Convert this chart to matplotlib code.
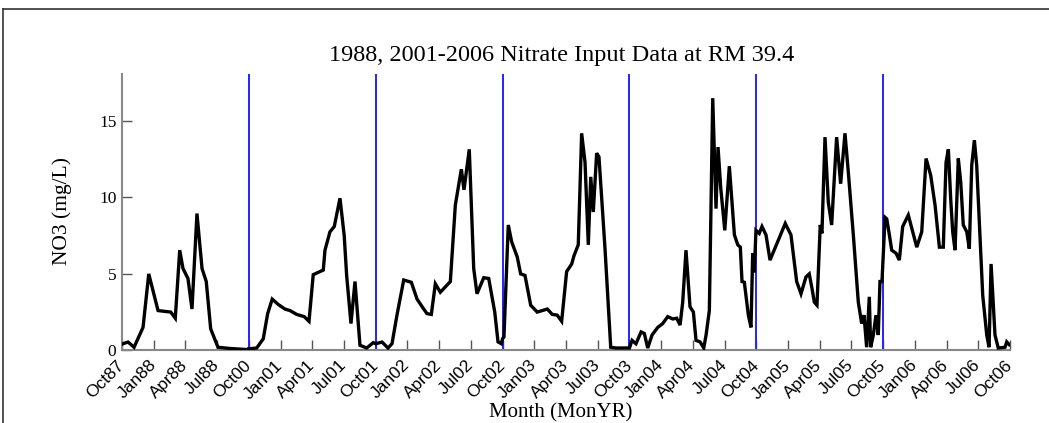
import matplotlib
matplotlib.use("Agg")
import matplotlib.pyplot as plt
import numpy as np
from matplotlib.lines import Line2D

# Water-year segments (each 12 months, Oct->Sep) placed end to end on the x axis
segments = ["WY1988", "WY2001", "WY2002", "WY2003", "WY2004", "WY2005", "WY2006"]

# months into each water year (0 = start of Oct) and nitrate (mg/L)
m1988 = [0.0, 0.09, 0.57, 1.14, 1.99, 2.53, 3.41, 4.61, 5.04, 5.46, 5.77, 6.24, 6.62, 7.09, 7.57, 7.97, 8.39, 9.08, 10.2, 11.8, 12.0]
v1988 = [0.4, 0.43, 0.54, 0.2, 1.5, 5.0, 2.6, 2.5, 2.1, 6.55, 5.35, 4.7, 2.7, 8.95, 5.35, 4.5, 1.4, 0.2, 0.12, 0.05, 0.05]

m2001 = [0.0, 0.74, 1.36, 1.78, 2.21, 2.78, 3.41, 3.89, 4.52, 5.24, 5.69, 6.09, 6.57, 7.04, 7.2, 7.67, 8.08, 8.62, 9.02, 9.25, 9.66, 10.04, 10.51, 11.14, 11.77]
v2001 = [0.1, 0.15, 0.75, 2.4, 3.35, 3.0, 2.7, 2.6, 2.35, 2.2, 1.9, 4.95, 5.1, 5.25, 6.55, 7.75, 8.1, 9.95, 7.5, 4.9, 1.75, 4.5, 0.33, 0.15, 0.5]

m2002 = [0.0, 0.6, 1.16, 1.54, 2.01, 2.65, 3.37, 3.91, 4.54, 4.85, 5.26, 5.64, 6.11, 6.58, 7.06, 7.53, 8.1, 8.35, 8.85, 9.27, 9.58, 10.22, 10.69, 11.26, 11.57, 11.88]
v2002 = [0.43, 0.54, 0.15, 0.43, 2.3, 4.6, 4.45, 3.35, 2.7, 2.4, 2.35, 4.35, 3.8, 4.15, 4.5, 9.5, 11.85, 10.5, 13.15, 5.35, 3.7, 4.75, 4.7, 2.5, 0.55, 0.43]

m2003 = [0.0, 0.13, 0.54, 0.86, 1.39, 1.71, 2.12, 2.66, 3.28, 4.23, 4.7, 5.17, 5.59, 6.06, 6.54, 6.76, 7.16, 7.48, 7.8, 8.11, 8.34, 8.58, 8.9, 9.12, 9.69, 10.23, 10.7, 11.9]
v2003 = [0.76, 0.87, 8.2, 7.1, 6.1, 5.0, 4.9, 2.95, 2.5, 2.7, 2.35, 2.3, 1.9, 5.15, 5.65, 6.2, 6.9, 14.2, 12.3, 6.9, 11.35, 9.05, 12.9, 12.65, 6.65, 0.2, 0.15, 0.15]

m2004 = [0.0, 0.25, 0.62, 1.1, 1.41, 1.73, 2.14, 2.68, 3.15, 3.62, 4.1, 4.47, 4.79, 5.04, 5.35, 5.73, 6.05, 6.3, 6.68, 7.03, 7.25, 7.56, 7.88, 8.19, 8.38, 8.64, 9.02, 9.45, 9.93, 10.25, 10.49, 10.65, 10.87, 11.25, 11.5, 11.66, 11.81, 11.97]
v2004 = [0.15, 0.65, 0.43, 1.2, 1.1, 0.15, 1.0, 1.5, 1.75, 2.2, 2.05, 2.1, 1.65, 3.15, 6.55, 2.85, 2.5, 0.65, 0.55, 0.15, 1.0, 2.6, 16.5, 9.27, 13.3, 10.6, 7.85, 12.05, 7.55, 6.9, 6.75, 4.5, 4.45, 2.3, 1.5, 6.35, 5.1, 7.85]

m2005 = [0.28, 0.54, 0.92, 1.3, 2.02, 2.74, 3.28, 3.82, 4.23, 4.7, 5.01, 5.27, 5.49, 5.74, 6.05, 6.21, 6.5, 6.81, 7.13, 7.6, 7.98, 8.39, 8.7, 9.18, 9.65, 9.97, 10.19, 10.44, 10.69, 10.82, 11.07, 11.32, 11.54, 11.7, 11.89]
v2005 = [7.65, 8.1, 7.55, 5.9, 7.1, 8.3, 7.55, 4.5, 3.7, 4.8, 5.0, 4.05, 3.15, 2.95, 8.2, 7.65, 13.95, 9.7, 8.2, 13.95, 10.9, 14.2, 11.7, 7.55, 3.15, 1.75, 2.3, 0.2, 3.5, 0.2, 1.0, 2.3, 1.0, 4.5, 4.5]

m2006 = [0.02, 0.18, 0.34, 0.59, 0.81, 1.22, 1.53, 1.85, 2.38, 2.8, 3.18, 3.65, 4.06, 4.5, 4.91, 5.32, 5.69, 5.95, 6.17, 6.39, 6.58, 6.8, 6.96, 7.11, 7.34, 7.58, 7.91, 8.15, 8.38, 8.63, 8.85, 9.42, 9.8, 10.02, 10.21, 10.58, 10.89, 11.53, 11.69, 11.93]
v2006 = [6.45, 8.7, 8.6, 7.55, 6.55, 6.35, 5.9, 8.1, 8.85, 7.75, 6.75, 7.75, 12.55, 11.45, 9.5, 6.75, 6.75, 12.3, 13.15, 9.9, 7.75, 6.55, 9.7, 12.55, 11.0, 8.2, 7.75, 6.65, 12.1, 13.75, 12.1, 3.6, 1.0, 0.2, 5.65, 1.0, 0.15, 0.2, 0.55, 0.37]

seg_months = [m1988, m2001, m2002, m2003, m2004, m2005, m2006]
seg_values = [v1988, v2001, v2002, v2003, v2004, v2005, v2006]

tick_labels = ["Oct87", "Jan88", "Apr88", "Jul88",
               "Oct00", "Jan01", "Apr01", "Jul01",
               "Oct01", "Jan02", "Apr02", "Jul02",
               "Oct02", "Jan03", "Apr03", "Jul03",
               "Oct03", "Jan04", "Apr04", "Jul04",
               "Oct04", "Jan05", "Apr05", "Jul05",
               "Oct05", "Jan06", "Apr06", "Jul06",
               "Oct06"]

# build continuous series
x_all, y_all = [], []
for k, (mm, vv) in enumerate(zip(seg_months, seg_values)):
    x_all.extend([12 * k + m for m in mm])
    y_all.extend(vv)

fig = plt.figure(figsize=(10.49, 4.23), dpi=100)
ax = fig.add_axes([122 / 1049, 1 - 350.3 / 423, (1010 - 122) / 1049, (350.3 - 73.7) / 423])

n_seg = len(segments)
for k in range(1, n_seg):
    ax.axvline(12 * k, color="#2222ff", lw=1.4, zorder=2)

ax.plot(x_all, y_all, color="black", lw=2.4, zorder=3, solid_joinstyle="miter")

ax.set_xlim(0, 12 * n_seg)
ax.set_ylim(0, 18.1)

ax.set_xticks(np.arange(0, 12 * n_seg + 1, 3))
ax.set_xticklabels(tick_labels, rotation=45, ha="right", va="center", rotation_mode="anchor",
                   family="Liberation Sans", fontsize=12.5)
ax.set_yticks([0, 5, 10, 15])
ax.set_yticklabels(["0", "5", "10", "15"], family="Liberation Serif", fontsize=12.5)

ax.tick_params(axis="both", direction="in", length=7, width=1, color="#555555")
ax.tick_params(axis="x", pad=9)
ax.tick_params(axis="y", pad=4)

for side in ["top", "right"]:
    ax.spines[side].set_visible(False)
for side in ["left", "bottom"]:
    ax.spines[side].set_color("#888888")
    ax.spines[side].set_linewidth(1.5)

fig.text(562 / 1049, 1 - 55 / 423, "1988, 2001-2006 Nitrate Input Data at RM 39.4",
         ha="center", va="center", family="Liberation Serif", fontsize=17.5)
fig.text(62 / 1049, 1 - 211 / 423, "NO3 (mg/L)", rotation=90, ha="center", va="center",
         family="Liberation Serif", fontsize=15.5)
fig.text(561 / 1049, 1 - 413 / 423, "Month (MonYR)", ha="center", va="center",
         family="Liberation Serif", fontsize=15)

# frame of the surrounding figure box
fig.add_artist(Line2D([3 / 1049, 3 / 1049], [0, 1 - 9 / 423], color="#333333", lw=1.2,
                      transform=fig.transFigure))
fig.add_artist(Line2D([3 / 1049, 1], [1 - 9 / 423, 1 - 9 / 423], color="#333333", lw=1.2,
                      transform=fig.transFigure))

fig.savefig("out.png", dpi=100)
